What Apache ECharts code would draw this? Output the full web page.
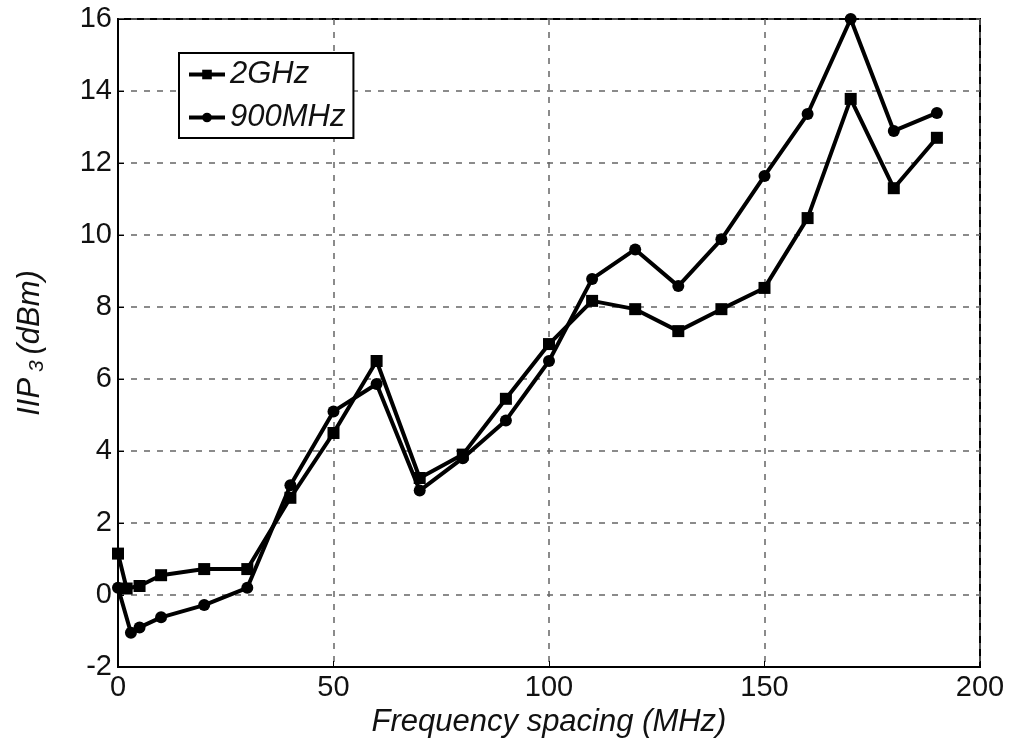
<!DOCTYPE html>
<html>
<head>
<meta charset="utf-8">
<script src="https://cdn.jsdelivr.net/npm/echarts@6/dist/echarts.min.js"></script>
<style>
  html, body { margin: 0; padding: 0; background: #fff; }
  #chart { width: 1023px; height: 738px; }
</style>
</head>
<body>
<div id="chart"></div>
<script>
    // values, [frequency spacing MHz, IIP3 dBm]
    const freq2G = [0, 2, 5, 10, 20, 30, 40, 50, 60, 70, 80, 90, 100, 110, 120, 130, 140, 150, 160, 170, 180, 190];
    const iip2G = [1.15, 0.18, 0.25, 0.55, 0.72, 0.72, 2.7, 4.5, 6.5, 3.25, 3.9, 5.45, 6.97, 8.17, 7.94, 7.33, 7.94, 8.53, 10.47, 13.78, 11.3, 12.7];
    const freq900 = [0, 3, 5, 10, 20, 30, 40, 50, 60, 70, 80, 90, 100, 110, 120, 130, 140, 150, 160, 170, 180, 190];
    const iip900 = [0.2, -1.05, -0.9, -0.62, -0.28, 0.2, 3.05, 5.1, 5.86, 2.9, 3.8, 4.85, 6.5, 8.78, 9.6, 8.58, 9.88, 11.64, 13.36, 16.0, 12.89, 13.39];
    const seriesNames = ['2GHz', '900MHz'];

    const font = 'Liberation Sans';
    const pairs = (xs, ys) => xs.map((x, i) => [x, ys[i]]);

    const option = {
        animation: false,
        backgroundColor: '#fff',
        grid: {
            left: 118, right: 43, top: 19, bottom: 71,
            outerBoundsMode: 'none',
            show: true,
            borderColor: '#000',
            borderWidth: 2
        },
        legend: {
            data: seriesNames,
            orient: 'vertical',
            left: 179,
            top: 53,
            padding: [6, 8, 5, 8],
            itemGap: 12,
            itemWidth: 36,
            itemHeight: 12,
            borderColor: '#000',
            borderWidth: 2,
            backgroundColor: '#fff',
            lineStyle: { width: 4 },
            textStyle: { fontFamily: font, fontStyle: 'italic', fontSize: 31, lineHeight: 30, color: '#111' }
        },
        xAxis: {
            type: 'value',
            min: 0, max: 200, interval: 50,
            name: 'Frequency spacing (MHz)',
            nameLocation: 'middle',
            nameGap: 38,
            nameTextStyle: { fontFamily: font, fontStyle: 'italic', fontSize: 31, color: '#111' },
            axisLine: { show: true, onZero: false, lineStyle: { color: '#000', width: 2 } },
            axisTick: { show: true, inside: true, length: 6, lineStyle: { color: '#000' } },
            axisLabel: { fontFamily: font, fontSize: 29, color: '#111', margin: 6 },
            splitLine: { show: true, lineStyle: { color: '#666', width: 1.5, type: [6, 7] } }
        },
        yAxis: {
            type: 'value',
            min: -2, max: 16, interval: 2,
            name: '{a|IIP}{s| 3 }{a|(dBm)}',
            nameLocation: 'middle',
            nameGap: 70,
            nameRotate: 90,
            nameTextStyle: {
                rich: {
                    a: { fontFamily: font, fontStyle: 'italic', fontSize: 31, color: '#111' },
                    s: { fontFamily: font, fontStyle: 'italic', fontSize: 21, color: '#111', verticalAlign: 'bottom', padding: [14, 0, 0, 0] }
                }
            },
            axisLine: { show: true, lineStyle: { color: '#000', width: 2 } },
            axisTick: { show: true, inside: true, length: 6, lineStyle: { color: '#000' } },
            axisLabel: { fontFamily: font, fontSize: 29, color: '#111', margin: 6 },
            splitLine: { show: true, lineStyle: { color: '#666', width: 1.5, type: [6, 7] } }
        },
        series: [
            {
                name: seriesNames[0],
                type: 'line',
                data: pairs(freq2G, iip2G),
                symbol: 'rect',
                symbolSize: 12,
                lineStyle: { color: '#000', width: 4 },
                itemStyle: { color: '#000' }
            },
            {
                name: seriesNames[1],
                type: 'line',
                data: pairs(freq900, iip900),
                symbol: 'circle',
                symbolSize: 12,
                lineStyle: { color: '#000', width: 4 },
                itemStyle: { color: '#000' }
            }
        ]
    };

    let myChart = echarts.init(document.getElementById('chart'));
    myChart.setOption(option);
</script>
</body>
</html>
